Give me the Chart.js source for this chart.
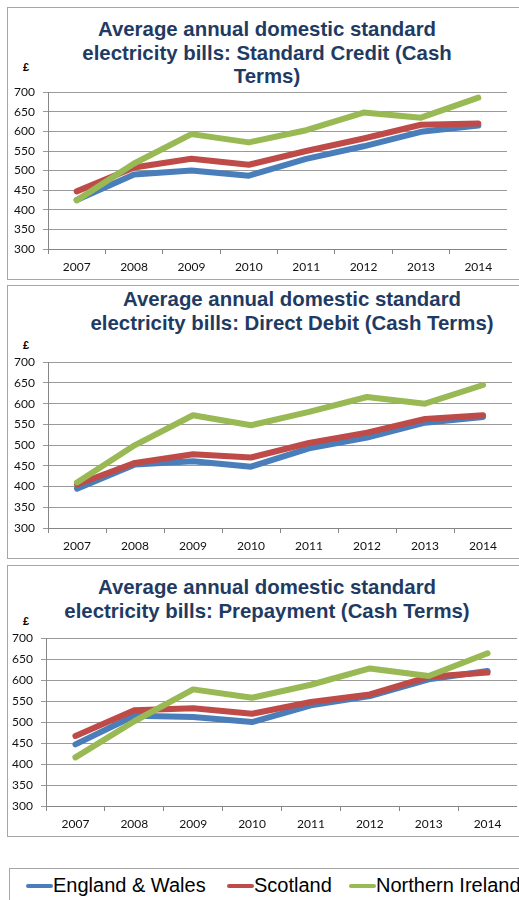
<!DOCTYPE html>
<html>
  <head>
    <script src="https://cdn.jsdelivr.net/npm/chart.js"></script>
    <style>
      body { margin: 0; background: #fff; width: 519px; height: 900px; overflow: hidden; position: relative; }
      .box { position: absolute; left: 7px; width: 530px; border: 1px solid #a6a6a6; box-sizing: border-box; }
      .title { position: absolute; font-family: 'Liberation Sans', Arial, sans-serif; font-weight: bold;
               font-size: 20.4px; line-height: 23.5px; color: #1f3b63; text-align: center; width: 500px; }
      .pound { position: absolute; left: 23px; font-family: 'Liberation Sans', Arial, sans-serif; font-weight: bold; font-size: 11px; }
      canvas { position: absolute; left: 0; }
      .legend { position: absolute; left: 9px; top: 868px; width: 530px; height: 40px; border: 1px solid #a6a6a6;
                font-family: 'Liberation Sans', Arial, sans-serif; font-size: 20px; color: #000; }
      .legend span.item { position: absolute; top: 5px; white-space: nowrap; }
      .legend i { display: inline-block; width: 27px; height: 4px; border-radius: 2px; vertical-align: middle; margin-right: 0; position: relative; top: -1px; }
    </style>
  </head>
  <body>
    <div class="box" style="top:7px;height:273px"></div>
    <div class="box" style="top:285px;height:274px"></div>
    <div class="box" style="top:565px;height:272px"></div>

    <div class="title" style="left:17px;top:18px">Average annual domestic standard<br>electricity bills: Standard Credit (Cash<br>Terms)</div>
    <div class="title" style="left:42px;top:288px">Average annual domestic standard<br>electricity bills: Direct Debit (Cash Terms)</div>
    <div class="title" style="left:17px;top:576px">Average annual domestic standard<br>electricity bills: Prepayment (Cash Terms)</div>

    <div class="pound" style="top:61px">£</div>
    <div class="pound" style="top:339px">£</div>
    <div class="pound" style="top:615px">£</div>

    <canvas id="credit" width="507" height="202" style="top:77px"></canvas>
    <canvas id="debit" width="512" height="211" style="top:347px"></canvas>
    <canvas id="prepay" width="517" height="213" style="top:623px"></canvas>

    <div class="legend">
      <span class="item" style="left:16px"><i style="background:#4a7ebb"></i>England &amp; Wales</span>
      <span class="item" style="left:217px"><i style="background:#be4b48"></i>Scotland</span>
      <span class="item" style="left:339px"><i style="background:#98b954"></i>Northern Ireland</span>
    </div>

    <script>
      var years = ['2007', '2008', '2009', '2010', '2011', '2012', '2013', '2014'];

      // Standard Credit
      var creditEW = [425, 490, 500, 487, 530, 562, 599, 615];
      var creditSC = [447, 508, 530, 515, 550, 582, 617, 620];
      var creditNI = [424, 518, 593, 572, 603, 648, 635, 686];

      // Direct Debit
      var debitEW = [395, 453, 461, 448, 492, 518, 554, 568];
      var debitSC = [405, 457, 478, 470, 505, 530, 563, 572];
      var debitNI = [410, 500, 572, 548, 580, 616, 600, 645];

      // Prepayment
      var prepayEW = [447, 515, 512, 500, 540, 562, 602, 622];
      var prepaySC = [467, 528, 533, 520, 548, 566, 608, 618];
      var prepayNI = [416, 502, 578, 558, 589, 628, 610, 664];

      Chart.defaults.font.family = 'Lato, "Open Sans", sans-serif';
      Chart.defaults.font.size = 12;
      Chart.defaults.color = '#111';

      function line(label, data, color, order) {
        return {
          label: label,
          data: data,
          borderColor: color,
          backgroundColor: color,
          borderWidth: 6,
          borderCapStyle: 'round',
          borderJoinStyle: 'round',
          pointRadius: 0,
          tension: 0,
          order: order
        };
      }

      function makeChart(id, ew, sc, ni, yWidth) {
        var ctx = document.getElementById(id).getContext('2d');
        return new Chart(ctx, {
          type: 'line',
          data: {
            labels: years,
            datasets: [
              line('England & Wales', ew, '#4a7ebb', 2),
              line('Scotland', sc, '#be4b48', 1),
              line('Northern Ireland', ni, '#98b954', 0)
            ]
          },
          options: {
            responsive: false,
            animation: false,
            layout: { padding: { top: 5, right: 0, left: 0, bottom: 0 } },
            plugins: { legend: { display: false }, title: { display: false }, tooltip: { enabled: false } },
            scales: {
              x: {
                offset: true,
                grid: { offset: true, drawOnChartArea: false, drawTicks: true, tickLength: 5, color: '#868686' },
                border: { display: true, color: '#868686' },
                ticks: { padding: 6, maxRotation: 0 },
                afterFit: function (s) { s.height = 30; }
              },
              y: {
                min: 300,
                max: 700,
                ticks: { stepSize: 50, padding: 8 },
                grid: { color: '#9a9a9a', tickLength: 5 },
                border: { display: true, color: '#868686' },
                afterFit: function (s) { s.width = yWidth; }
              }
            }
          }
        });
      }

      makeChart('credit', creditEW, creditSC, creditNI, 48);
      makeChart('debit', debitEW, debitSC, debitNI, 48);
      makeChart('prepay', prepayEW, prepaySC, prepayNI, 46);
    </script>
  </body>
</html>
